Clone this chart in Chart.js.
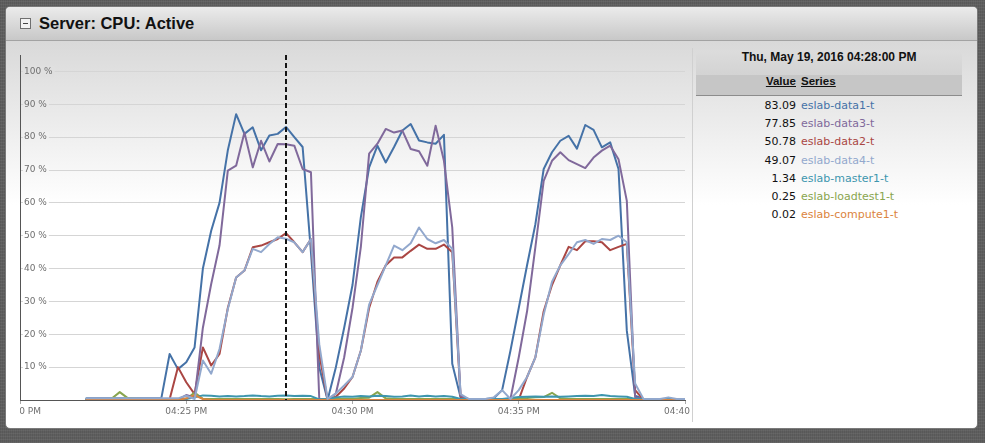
<!DOCTYPE html>
<html><head><meta charset="utf-8">
<script src="https://cdn.jsdelivr.net/npm/chart.js@4/dist/chart.umd.min.js"></script>
<style>
html,body{margin:0;padding:0;}
body{width:985px;height:443px;overflow:hidden;position:relative;background-color:#5f5f5f;
background-image:repeating-linear-gradient(0deg,rgba(255,255,255,0.05) 0 1px,transparent 1px 3px),repeating-linear-gradient(90deg,rgba(0,0,0,0.07) 0 1px,transparent 1px 2px);}
#panel{position:absolute;left:5px;top:6px;width:971px;height:421px;border:1px solid #7a7a7a;border-radius:5px;overflow:hidden;
background:linear-gradient(to bottom,#d9d9d9 34px,#ffffff 198px);}
#titlebar{position:absolute;left:6px;top:7px;width:971px;height:33px;border-bottom:1px solid #a3a3a3;border-radius:4px 4px 0 0;
background:linear-gradient(to bottom,#ebebeb,#c8c8c8);}
#icon{position:absolute;left:20px;top:18px;width:9px;height:9px;border:1px solid #6f6f6f;background:#f2f2f2;}
#icon:after{content:"";position:absolute;left:2px;top:4px;width:5px;height:1px;background:#444;}
#title{position:absolute;left:39px;top:13px;font:bold 16.5px "Liberation Sans",Arial,sans-serif;line-height:20px;color:#111;white-space:nowrap;}
#divider{position:absolute;left:692px;top:48px;width:1px;height:374px;background:#d0d0d0;}
#wrap{position:absolute;left:0;top:41px;width:700px;height:389px;}
#chart{clip-path:inset(0px 10px 0px 20px);}
#tip{position:absolute;left:696px;top:50px;width:266px;}
#tiphead{height:25px;line-height:27px;text-align:center;border-radius:6px 6px 0 0;background:linear-gradient(to bottom,#dcdcdc,#d3d3d3);
font:bold 12px "Liberation Sans",Arial,sans-serif;color:#111;white-space:nowrap;}
#tipsub{height:20px;line-height:20px;background:#c6c6c6;border-bottom:1px solid #8c8c8c;font:bold 11.5px "Liberation Sans",Arial,sans-serif;color:#111;}
.c1{display:inline-block;width:100px;text-align:right;vertical-align:top;}
.c2{display:inline-block;padding-left:5px;vertical-align:top;white-space:nowrap;}
#tipsub span{text-decoration:underline;}
#rows{padding-top:1px;font:11px "DejaVu Sans",sans-serif;color:#111;}
.row{height:18.2px;line-height:18.2px;}
</style></head>
<body>
<div id="panel"></div>
<div id="titlebar"></div>
<div id="icon"></div>
<div id="title">Server: CPU: Active</div>
<div id="divider"></div>
<div id="wrap"><canvas id="chart" width="700" height="389"></canvas></div>
<div id="tip">
  <div id="tiphead"></div>
  <div id="tipsub"><span class="c1"><span>Value</span></span><span class="c2"><span>Series</span></span></div>
  <div id="rows"></div>
</div>
<script>
// ---- data (seconds after 04:20:00 PM, one sample every 15 s from 04:22:00) ----
const sampleStartSec = 120;
const sampleStepSec = 15;
const hoverIndex = 24;
const hoverLabel = 'Thu, May 19, 2016 04:28:00 PM';

const xTickValues = [0, 300, 600, 900, 1200];
const xTickLabels = ['04:20 PM', '04:25 PM', '04:30 PM', '04:35 PM', '04:40 PM'];
const yTickValues = [10, 20, 30, 40, 50, 60, 70, 80, 90, 100];

const seriesNames = ['eslab-data1-t', 'eslab-data2-t', 'eslab-loadtest1-t', 'eslab-data3-t', 'eslab-master1-t', 'eslab-compute1-t', 'eslab-data4-t'];
const seriesColors = ['#4572A7', '#AA4643', '#89A54E', '#80699B', '#3D96AE', '#DB843D', '#92A8CD'];

const data1 = [0.5,0.5,0.5,0.5,0.5,0.5,0.5,0.5,0.5,0.5,
  14,9.4,11.5,16,40,51.5,60,76,87,81,
  83,76,80.5,81,83.09,80,77,45,10,0,
  10,22,35,55.6,70.8,77.4,72.3,77,82,84,
  79,78.4,78,80.7,11,0.8,0.3,0.3,0.3,0.5,
  3,15,28,41,53.5,70.3,75.4,78.9,80.4,76.5,
  83.7,82.2,76.9,78.4,70.3,21.1,1.3,0.3,0.3,0.3,
  0.3,0.3,0.3];
const data2 = [0.1,0.1,0.1,0.1,0.1,0.1,0.1,0.1,0.1,0.1,
  0.2,10,5.4,1.8,16,10.5,14,28,37.3,39.4,
  46.5,47,48,49,50.78,48,45,49,14,0.1,
  1,3.5,7,15,28,36,41,43.4,43.4,45.4,
  47.3,46,46,47.3,45,1,0.1,0.1,0.1,0.1,
  0.1,0.1,0.1,7,13,27,35,41,46.6,45.6,
  48.3,48.3,48,45.6,46.6,47.5,3,0.1,0.1,0.1,
  0.1,0.1,0.1];
const loadtest1 = [0.2,0.2,0.2,0.4,2.4,0.5,0.4,0.3,0.25,0.25,
  0.25,0.25,0.25,2.3,0.4,0.3,0.3,0.3,0.3,0.3,
  0.3,0.3,0.3,0.3,0.25,0.3,0.3,0.3,0.3,0.3,
  0.3,0.3,0.3,0.6,0.7,2.4,0.5,0.3,0.3,0.3,
  0.3,0.3,0.3,0.3,0.3,0.3,0.3,0.3,0.3,0.3,
  0.3,0.3,0.5,0.6,0.8,0.9,2.2,0.5,0.3,0.3,
  0.3,0.3,0.3,0.3,0.3,0.3,0.3,0.3,0.3,0.3,
  0.3,0.3,0.3];
const data3 = [0.2,0.2,0.2,0.2,0.2,0.2,0.2,0.2,0.2,0.2,
  0.2,0.2,1.5,0.8,22,35.3,47,69.8,71.3,81.4,
  70.8,78.9,72.6,77.9,77.85,77.4,70.3,69.3,0.3,0,
  2,13,28,46.5,75,78,82.5,81.4,82,76.4,
  75.7,71.3,83.5,72.8,52.5,1.3,0.2,0.2,0.2,0.2,
  0.2,0.3,13,27,46.5,66.7,72.8,75.4,73,71.8,
  70.6,73.8,75.9,77.4,73.3,60.6,0.8,0.2,0.2,0.2,
  0.2,0.2,0.2];
const master1 = [0.3,0.3,0.3,0.3,0.3,0.3,0.3,0.3,0.3,0.3,
  0.3,0.3,0.3,0.8,1.4,1.3,1.1,1.2,1.1,1.2,
  1.4,1.2,1.1,1.3,1.34,1.2,1.3,1.2,0.2,0.3,
  0.8,1.1,1.0,1.2,1.1,1.3,1.2,1.0,1.1,1.4,
  1.1,1.3,1.1,1.2,1.0,0.3,0.3,0.3,0.3,0.3,
  0.3,0.6,0.9,1.0,1.1,1.0,1.1,1.0,1.1,1.2,
  1.3,1.2,1.5,1.2,1.1,1.0,0.3,0.3,0.3,0.3,
  0.3,0.3,0.3];
const compute1 = [0.02,0.02,0.02,0.02,0.02,0.02,0.02,0.02,0.02,0.02,
  0.02,0.02,0.5,1.5,0.3,0.02,0.02,0.02,0.02,0.02,
  0.02,0.02,0.02,0.02,0.02,0.02,0.02,0.02,0.02,0.02,
  0.02,0.02,0.02,0.02,0.02,0.02,0.02,0.02,0.02,0.02,
  0.02,0.02,0.02,0.02,0.02,0.02,0.02,0.02,0.02,0.02,
  0.02,0.02,0.02,0.02,0.02,0.02,0.02,0.02,0.02,0.02,
  0.02,0.02,0.02,0.02,0.02,0.02,0.02,0.02,0.02,0.02,
  0.02,0.02,0.02];
const data4 = [0.5,0.5,0.5,0.5,0.5,0.5,0.5,0.5,0.5,0.5,
  0.5,0.5,1.3,0.3,12,8,15.5,27.7,37.3,39.4,
  46,45,47.5,49.5,49.07,48,45,49,17,0.3,
  2,4.4,7,15,29,35,41,47,45.6,47.7,
  52.5,49,47.7,48.7,46,1.8,0.3,0.3,0.3,0.8,
  3,0.3,3,7,13,26,36,41,44.4,48,
  48.7,47.5,49,48.7,50,48,5,0.3,0.3,0.3,
  0.8,0.3,0.3];

const seriesValues = [data1, data2, loadtest1, data3, master1, compute1, data4];
const sampleTimes = data1.map((_, i) => sampleStartSec + sampleStepSec * i);

// ---- chart ----
const CANVAS_TOP = 41;
function bgAt(py) {
  const t = Math.max(0, Math.min(1, (py - 40) / 164));
  const c = Math.round(217 + 38 * t);
  return 'rgb(' + c + ',' + c + ',' + c + ')';
}

const datasets = seriesNames.map((name, k) => ({
  label: name,
  data: seriesValues[k].map((v, i) => ({x: sampleTimes[i], y: v})),
  borderColor: seriesColors[k],
  backgroundColor: seriesColors[k],
  borderWidth: 2,
  pointRadius: 0,
  tension: 0,
  fill: false,
  borderJoinStyle: 'round',
  borderCapStyle: 'round',
  order: seriesNames.length - k
}));

const hoverLine = {
  id: 'hoverLine',
  afterDatasetsDraw(chart) {
    const ctx = chart.ctx, a = chart.chartArea;
    const x = Math.round(chart.scales.x.getPixelForValue(sampleTimes[hoverIndex]));
    ctx.save();
    ctx.strokeStyle = '#151515';
    ctx.lineWidth = 2;
    ctx.setLineDash([5, 3]);
    ctx.beginPath();
    ctx.moveTo(x, a.top);
    ctx.lineTo(x, a.bottom);
    ctx.stroke();
    ctx.restore();
  }
};

new Chart(document.getElementById('chart'), {
  type: 'line',
  data: {datasets},
  plugins: [hoverLine],
  options: {
    responsive: false,
    animation: false,
    devicePixelRatio: 1,
    events: [],
    layout: {padding: {left: 20, right: 15, top: 14, bottom: 10}},
    plugins: {legend: {display: false}, tooltip: {enabled: false}},
    scales: {
      x: {
        type: 'linear', min: xTickValues[0], max: xTickValues[xTickValues.length - 1],
        afterBuildTicks: s => { s.ticks = xTickValues.map(v => ({value: v})); },
        afterFit: s => { s.height = 20; s.paddingLeft = 0; s.paddingRight = 0; },
        ticks: {
          callback: (v, i) => xTickLabels[i],
          font: {family: 'DejaVu Sans', size: 9}, color: '#6f6f6f',
          padding: 2, maxRotation: 0, autoSkip: false
        },
        grid: {drawOnChartArea: false, drawTicks: true, tickLength: 4, color: '#aaa'},
        border: {color: '#555', width: 1}
      },
      y: {
        min: 0, max: 105,
        afterBuildTicks: s => { s.ticks = yTickValues.map(v => ({value: v})); },
        afterFit: s => { s.width = 0; s.paddingTop = 0; s.paddingBottom = 0; },
        ticks: {
          mirror: true, padding: 4,
          callback: v => v + ' %',
          font: {family: 'DejaVu Sans', size: 9}, color: '#6f6f6f',
          showLabelBackdrop: true,
          backdropPadding: {top: 0, bottom: 0, left: 1, right: 2},
          backdropColor: ctx => bgAt(ctx.scale.getPixelForValue(ctx.tick.value) + CANVAS_TOP)
        },
        grid: {color: '#d5d5d5', drawTicks: false},
        border: {color: '#555', width: 1}
      }
    }
  }
});

// ---- hover panel built from the data ----
document.getElementById('tiphead').textContent = hoverLabel;
const order = seriesNames.map((n, k) => k).sort((a, b) => seriesValues[b][hoverIndex] - seriesValues[a][hoverIndex]);
const rows = document.getElementById('rows');
order.forEach(k => {
  const r = document.createElement('div');
  r.className = 'row';
  const v = document.createElement('span'); v.className = 'c1'; v.textContent = seriesValues[k][hoverIndex].toFixed(2);
  const n = document.createElement('span'); n.className = 'c2'; n.textContent = seriesNames[k]; n.style.color = seriesColors[k];
  r.appendChild(v); r.appendChild(n); rows.appendChild(r);
});
</script>
</body></html>
